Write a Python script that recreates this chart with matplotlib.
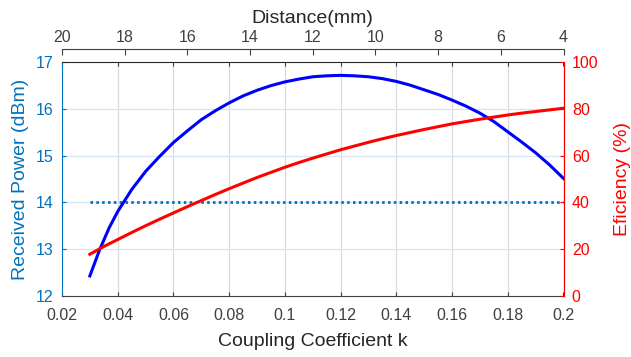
import matplotlib
matplotlib.use("Agg")
import matplotlib.pyplot as plt

plt.rcParams.update({
    "font.family": ["Liberation Sans", "DejaVu Sans"],
    "font.size": 11.5,
})

# Vastuvõetud võimsus (vasak telg), loetud jooniselt
k_voimsus = [0.03, 0.0335, 0.037, 0.04, 0.045, 0.05, 0.055, 0.06, 0.065, 0.07,
             0.075, 0.08, 0.085, 0.09, 0.095, 0.10, 0.105, 0.11, 0.115, 0.12,
             0.125, 0.13, 0.135, 0.14, 0.145, 0.15, 0.155, 0.16, 0.165, 0.17,
             0.175, 0.18, 0.185, 0.19, 0.195, 0.2]
voimsus = [12.42, 12.98, 13.46, 13.80, 14.27, 14.66, 14.98, 15.28, 15.53, 15.77,
           15.96, 16.13, 16.28, 16.40, 16.50, 16.58, 16.64, 16.69, 16.71, 16.72,
           16.71, 16.69, 16.65, 16.59, 16.51, 16.41, 16.31, 16.19, 16.06, 15.91,
           15.73, 15.51, 15.29, 15.06, 14.80, 14.51]

# Efektiivsus (parem telg)
k_eff = [0.03, 0.035, 0.04, 0.045, 0.05, 0.055, 0.06, 0.065, 0.07, 0.075,
         0.08, 0.085, 0.09, 0.095, 0.10, 0.105, 0.11, 0.115, 0.12, 0.125,
         0.13, 0.135, 0.14, 0.145, 0.15, 0.155, 0.16, 0.165, 0.17, 0.175,
         0.18, 0.185, 0.19, 0.195, 0.2]
efektiivsus = [17.7, 21.0, 24.0, 27.0, 29.9, 32.7, 35.4, 38.1, 40.7, 43.3,
               45.8, 48.2, 50.6, 52.8, 55.0, 57.0, 58.9, 60.7, 62.5, 64.1,
               65.7, 67.2, 68.6, 69.9, 71.2, 72.4, 73.6, 74.6, 75.6, 76.5,
               77.4, 78.2, 78.9, 79.6, 80.3]

# Lävi
k_lavi = [0.03, 0.2]
lavi = [14, 14]

k_tikid = [0.02, 0.04, 0.06, 0.08, 0.1, 0.12, 0.14, 0.16, 0.18, 0.2]
k_sildid = ["0.02", "0.04", "0.06", "0.08", "0.1", "0.12", "0.14", "0.16", "0.18", "0.2"]
kaugus_tikid = [20, 18, 16, 14, 12, 10, 8, 6, 4]

SININE = "#0072BD"
PUNANE = "#FF0000"
HALL = "#404040"

W, H = 631, 357
fig = plt.figure(figsize=(W / 100, H / 100), dpi=100)
vasak, parem, ylal, all_ = 62, 563.5, 62.3, 295.5
ax = fig.add_axes([vasak / W, 1 - all_ / H, (parem - vasak) / W, (all_ - ylal) / H])

ax.set_xlim(0.02, 0.2)
ax.set_ylim(12, 17)
ax.set_xticks(k_tikid)
ax.set_xticklabels(k_sildid)
ax.set_yticks([12, 13, 14, 15, 16, 17])

for x in k_tikid[1:-1]:
    ax.axvline(x, color="#dadada", lw=0.9, zorder=0)
for y in [13, 14, 15, 16]:
    ax.axhline(y, color="#d4e6f3", lw=0.9, zorder=0)

ax.plot(k_lavi, lavi, color=SININE, lw=2.0, linestyle=(0, (0.9, 1.2)), zorder=3)
ax.plot(k_voimsus, voimsus, color="#0000FF", lw=2.2, zorder=4)

ax.tick_params(axis="x", direction="in", length=3, colors=HALL, top=True, pad=9)
ax.tick_params(axis="y", direction="in", length=3, colors=SININE, pad=6)
ax.spines["left"].set_color(SININE)
ax.spines["bottom"].set_color(HALL)
ax.spines["top"].set_color("#262626")
ax.set_xlabel("Coupling Coefficient k", fontsize=14, color="#262626", labelpad=7)
ax.set_ylabel("Received Power (dBm)", fontsize=14, color=SININE, labelpad=5)

ax2 = ax.twinx()
ax2.set_ylim(0, 100)
ax2.set_yticks([0, 20, 40, 60, 80, 100])
ax2.plot(k_eff, efektiivsus, color=PUNANE, lw=2.2, zorder=4)
ax2.tick_params(axis="y", direction="in", length=3, colors=PUNANE, pad=6)
ax2.spines["right"].set_color(PUNANE)
ax2.spines["left"].set_visible(False)
ax2.spines["top"].set_visible(False)
ax2.spines["bottom"].set_visible(False)
ax2.set_ylabel("Eficiency (%)", fontsize=14, color=PUNANE, labelpad=11)

# Ülemine kaugustelg
ylemine = 49
axt = fig.add_axes([vasak / W, 1 - (ylemine + 5) / H, (parem - vasak) / W, 5 / H])
axt.patch.set_visible(False)
for s in ["left", "right", "bottom"]:
    axt.spines[s].set_visible(False)
axt.spines["top"].set_color(HALL)
axt.set_xlim(20, 4)
axt.set_xticks(kaugus_tikid)
axt.set_yticks([])
axt.xaxis.set_ticks_position("top")
axt.xaxis.set_label_position("top")
axt.tick_params(axis="x", direction="in", length=4, colors=HALL, pad=3)
axt.set_xlabel("Distance(mm)", fontsize=14, color="#262626", labelpad=5)

fig.savefig("out.png", dpi=100)
